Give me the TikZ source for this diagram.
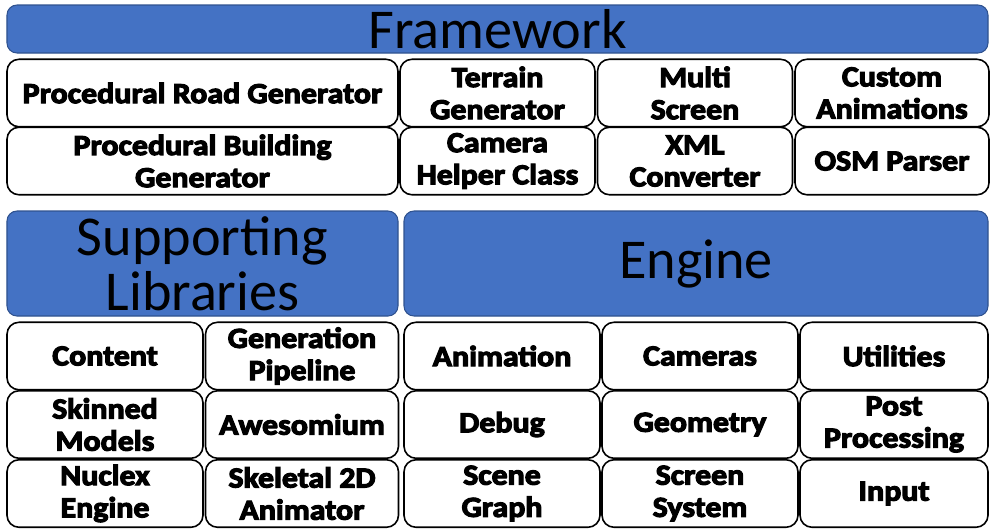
\documentclass[tikz,border=0pt]{standalone}
\usepackage{fontspec}
\setmainfont{Carlito}
\newfontfamily\cellFont{Carlito}[UprightFont={* Bold}, UprightFeatures={FakeBold=4, FakeStretch=1.1}]
\usepackage{xcolor}
\definecolor{fwBlue}{RGB}{68, 114, 196}
\definecolor{fwEdge}{RGB}{47, 82, 143}
\usepackage{tikz}
\usetikzlibrary{positioning}

\begin{document}
\begin{tikzpicture}[
    hdrBox/.style={
        rectangle, rounded corners=0.2cm,
        draw=fwEdge, line width=0.6pt,
        fill=fwBlue, text=black,
        font=\fontsize{32}{31.5}\selectfont, align=center,
        inner sep=0pt
    },
    cellBox/.style={
        rectangle, rounded corners=0.24cm,
        draw=black, line width=0.9pt,
        fill=white, text=black,
        font=\cellFont\fontsize{16.5}{18.3}\selectfont, align=center,
        inner sep=0pt, minimum height=1.35cm
    }
]
    \useasboundingbox (0,0) rectangle (19.8,-10.58);

    % Framework
    \node[hdrBox, minimum width=19.62cm, minimum height=0.96cm] (fw) at (9.95, -0.58) {Framework};

    \node[cellBox, minimum width=7.82cm] (f1_1) at (4.05, -1.86) {Procedural Road Generator};
    \node[cellBox, minimum width=3.9cm] (f1_2) at (9.95, -1.86) {Terrain\\Generator};
    \node[cellBox, minimum width=3.9cm] (f1_3) at (13.9, -1.86) {Multi\\Screen};
    \node[cellBox, minimum width=3.88cm] (f1_4) at (17.84, -1.86) {Custom\\Animations};

    \node[cellBox, minimum width=7.82cm] (f2_1) at (4.05, -3.22) {Procedural Building\\Generator};
    \node[cellBox, minimum width=3.9cm] (f2_2) at (9.95, -3.22) {Camera\\Helper Class};
    \node[cellBox, minimum width=3.9cm] (f2_3) at (13.9, -3.22) {XML\\Converter};
    \node[cellBox, minimum width=3.88cm] (f2_4) at (17.84, -3.22) {OSM Parser};

    % Supporting Libraries
    \node[hdrBox, minimum width=7.82cm, minimum height=2.1cm] (sl) at (4.05, -5.27) {Supporting\\Libraries};

    \node[cellBox, minimum width=3.92cm] (s1_1) at (2.1, -7.12) {Content};
    \node[cellBox, minimum width=3.86cm] (s1_2) at (6.04, -7.12) {Generation\\Pipeline};
    \node[cellBox, minimum width=3.92cm] (s2_1) at (2.1, -8.49) {Skinned\\Models};
    \node[cellBox, minimum width=3.86cm] (s2_2) at (6.04, -8.49) {Awesomium};
    \node[cellBox, minimum width=3.92cm] (s3_1) at (2.1, -9.87) {Nuclex\\Engine};
    \node[cellBox, minimum width=3.86cm] (s3_2) at (6.04, -9.87) {Skeletal 2D\\Animator};

    % Engine
    \node[hdrBox, minimum width=11.68cm, minimum height=2.1cm] (en) at (13.92, -5.27) {Engine};

    \node[cellBox, minimum width=3.92cm] (e1_1) at (10.04, -7.12) {Animation};
    \node[cellBox, minimum width=3.92cm] (e1_2) at (14.0, -7.12) {Cameras};
    \node[cellBox, minimum width=3.76cm] (e1_3) at (17.88, -7.12) {Utilities};
    \node[cellBox, minimum width=3.92cm] (e2_1) at (10.04, -8.49) {Debug};
    \node[cellBox, minimum width=3.92cm] (e2_2) at (14.0, -8.49) {Geometry};
    \node[cellBox, minimum width=3.76cm] (e2_3) at (17.88, -8.49) {Post\\Processing};
    \node[cellBox, minimum width=3.92cm] (e3_1) at (10.04, -9.87) {Scene\\Graph};
    \node[cellBox, minimum width=3.92cm] (e3_2) at (14.0, -9.87) {Screen\\System};
    \node[cellBox, minimum width=3.76cm] (e3_3) at (17.88, -9.87) {Input};

\end{tikzpicture}
\end{document}
